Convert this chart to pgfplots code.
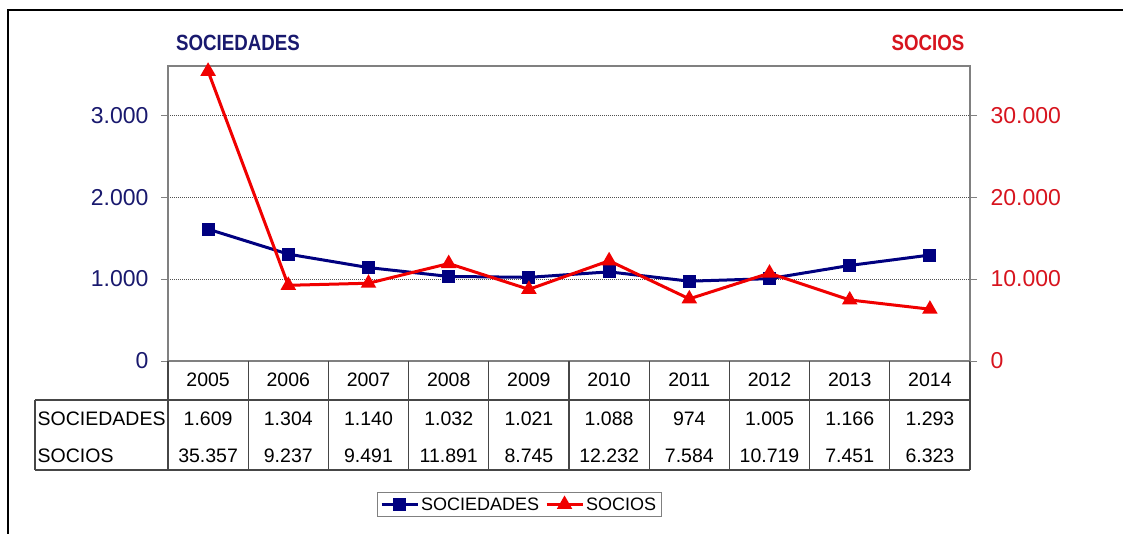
\documentclass[border=0pt]{standalone}
\usepackage{pgfplots}
\pgfplotsset{compat=1.18}
\usepackage{pgfplotstable}
\usepackage{fontspec}
\setmainfont{Liberation Sans}
\definecolor{navyl}{RGB}{0,0,128}
\definecolor{navyt}{RGB}{25,25,110}
\definecolor{redl}{RGB}{240,0,0}
\definecolor{redt}{RGB}{215,20,30}
\definecolor{gridc}{RGB}{80,80,80}
\definecolor{framec}{RGB}{128,128,128}
\definecolor{tablec}{RGB}{70,70,70}
\pgfkeys{/pgf/number format/.cd,fixed,1000 sep={.},assume math mode=true}

\pgfplotstableread{
x year soc socios
0 2005 1609 35357
1 2006 1304 9237
2 2007 1140 9491
3 2008 1032 11891
4 2009 1021 8745
5 2010 1088 12232
6 2011 974 7584
7 2012 1005 10719
8 2013 1166 7451
9 2014 1293 6323
}\datatable

\begin{document}
\begin{tikzpicture}
\useasboundingbox (0pt,0pt) rectangle (1123pt,-534pt);
\draw[line width=1.5pt] (8pt,-540pt) -- (8pt,-10pt) -- (1130pt,-10pt);
\node[navyt,font=\bfseries\fontsize{22}{24}\selectfont] at (238pt,-43pt) {\scalebox{0.85}[1]{SOCIEDADES}};
\node[redt,font=\bfseries\fontsize{22}{24}\selectfont] at (928pt,-43pt) {\scalebox{0.85}[1]{SOCIOS}};

\begin{axis}[
  at={(168pt,-361pt)}, anchor=south west,
  width=802pt, height=295pt, scale only axis,
  xmin=-0.5, xmax=9.5, ymin=0, ymax=3600,
  ytick={0,1000,2000,3000}, xtick=\empty,
  ytick pos=left, tick align=outside, major tick length=7pt,
  tick style={framec,line width=1pt},
  axis line style={framec,line width=1.2pt},
  ymajorgrids, grid style={gridc,dash pattern=on 1pt off 1pt,line width=0.7pt},
  yticklabel style={navyt,font=\fontsize{23}{25}\selectfont,xshift=-9pt},
  clip=false,
]
\addplot[navyl,line width=3pt,mark=square*,mark size=5pt,mark options={solid}] table[x=x,y=soc]{\datatable};
% data table
\draw[tablec,line width=1.2pt] (axis cs:-2.158,-476) -- (axis cs:9.5,-476);
\draw[tablec,line width=1.2pt] (axis cs:-2.158,-1330) -- (axis cs:9.5,-1330);
\draw[tablec,line width=1.2pt] (axis cs:-2.158,-476) -- (axis cs:-2.158,-1330);
\pgfplotsinvokeforeach{-0.5,0.5,1.5,2.5,3.5,4.5,5.5,6.5,7.5,8.5,9.5}{
  \draw[tablec,line width=1.2pt] (axis cs:#1,0) -- (axis cs:#1,-1330);
}
\node[anchor=west,inner sep=1pt,font=\fontsize{19.5}{21}\selectfont] at (axis cs:-2.14,-708) {SOCIEDADES};
\node[anchor=west,inner sep=1pt,font=\fontsize{19.5}{21}\selectfont] at (axis cs:-2.14,-1159) {SOCIOS};
\foreach \i/\s/\p in {0/1609/35357,1/1304/9237,2/1140/9491,3/1032/11891,4/1021/8745,5/1088/12232,6/974/7584,7/1005/10719,8/1166/7451,9/1293/6323}{
  \edef\temp{%
    \noexpand\node[font=\noexpand\fontsize{19.5}{21}\noexpand\selectfont] at (axis cs:\i,-232) {\number\numexpr2005+\i\relax};
    \noexpand\node[font=\noexpand\fontsize{19.5}{21}\noexpand\selectfont] at (axis cs:\i,-708) {\noexpand\pgfmathprintnumber{\s}};
    \noexpand\node[font=\noexpand\fontsize{19.5}{21}\noexpand\selectfont] at (axis cs:\i,-1159) {\noexpand\pgfmathprintnumber{\p}};
  }\temp
}
\end{axis}

\begin{axis}[
  at={(168pt,-361pt)}, anchor=south west,
  width=802pt, height=295pt, scale only axis,
  xmin=-0.5, xmax=9.5, ymin=0, ymax=36000,
  ytick={0,10000,20000,30000}, xtick=\empty,
  axis x line=none, axis y line*=right,
  tick align=outside, major tick length=7pt,
  tick style={framec,line width=1pt},
  axis line style={framec,line width=1.2pt,-},
  scaled y ticks=false,
  yticklabel style={redt,font=\fontsize{23}{25}\selectfont,xshift=10pt},
  clip=false,
  legend style={at={(0.4377,-0.4864)},anchor=center,legend columns=2,
    draw=framec,line width=1pt,font=\fontsize{18}{20}\selectfont,
    inner sep=3pt,/tikz/every even column/.append style={column sep=4pt}},
  legend image code/.code={\draw[mark repeat=2,mark phase=2,#1] plot coordinates {(0pt,0pt) (18pt,0pt) (36pt,0pt)};},
]
\addlegendimage{navyl,line width=3pt,mark=square*,mark size=5pt}
\addlegendentry{SOCIEDADES}
\addplot[redl,line width=3pt,mark=triangle*,mark size=6pt,mark options={solid}] table[x=x,y=socios]{\datatable};
\addlegendentry{SOCIOS}
\end{axis}
\end{tikzpicture}
\end{document}
